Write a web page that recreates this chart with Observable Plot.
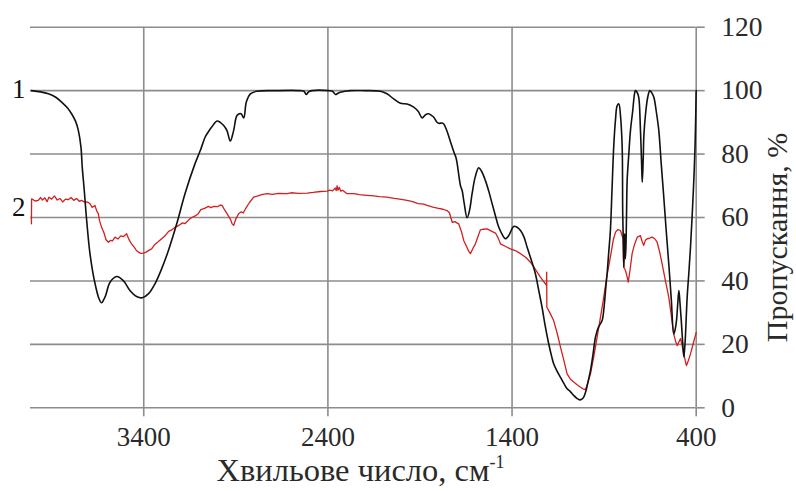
<!DOCTYPE html>
<html>
<head>
<meta charset="utf-8">
<script src="https://cdn.jsdelivr.net/npm/d3@7"></script>
<script src="https://cdn.jsdelivr.net/npm/@observablehq/plot@0.6"></script>
<style>
  html, body { margin: 0; padding: 0; background: #fff; }
</style>
</head>
<body>
<div id="chart"></div>
<script>
// ---- Data ----
const xTicks = [3400, 2400, 1400, 400];
const yTicks = [0, 20, 40, 60, 80, 100, 120];
const xTitle = "Хвильове число, см";
const xTitleSup = "-1";
const yTitle = "Пропускання, %";
const seriesNames = ["1", "2"];
const seriesLabelY = [100.3, 63.3];

// Spectrum 1 (black)
const wave1 = [4010,3960,3918,3880,3846,3815,3792,3770,3755,3741,3734,3723,3710,3692,3668,3643,3629,3618,3607,3583,3547,3511,3475,3439,3408,3375,3339,3303,3266,3221,3176,3122,3093,3067,3056,3030,3002,2985,2966,2948,2930,2912,2893,2872,2857,2843,2821,2785,2700,2549,2530,2517,2505,2486,2396,2375,2359,2345,2332,2278,2200,2115,2079,2043,2006,1970,1934,1910,1888,1870,1853,1838,1825,1810,1798,1780,1771,1755,1735,1715,1705,1698,1680,1671,1660,1644,1630,1617,1600,1581,1565,1545,1525,1508,1490,1472,1450,1436,1418,1400,1391,1375,1354,1335,1318,1295,1273,1255,1237,1220,1201,1185,1174,1155,1137,1118,1101,1085,1065,1048,1032,1015,1001,988,974,960,947,930,911,900,890,883,875,866,857,848,838,829,820,811,802,799,795,793,790,788,785,782,778,775,766,757,745,735,730,721,712,703,697,693,688,684,675,663,652,641,630,617,603,590,576,563,549,535,522,515,507,500,494,488,481,474,467,460,449,440,431,422,413,406,400];
const trans1 = [100,99.6,99.0,98.0,96.4,94.6,92.7,90.3,87.4,82.2,75.9,68.5,59.1,48.6,40.1,34.4,33.1,34.0,35.4,39.6,41.4,40.1,37.0,35.1,34.7,35.9,39.1,43.8,49.6,58.0,67.5,76.9,81.1,85.3,86.4,88.6,90.4,90.0,89.0,87.4,84.1,87.4,92.2,92.7,91.4,96.4,99.0,99.8,100,100,99.8,98.8,99.6,100,100,99.8,98.8,99.2,99.5,100,100,99.8,99.0,97.4,96.0,95.8,94.8,93.5,91.4,92.4,92.7,92.2,91.6,90.2,89.7,89.8,89.5,87.5,84.0,80.5,79.0,77.0,70.0,68.5,64.5,59.9,62.5,67.5,72.8,75.7,74.5,71.7,68.0,64.3,60.5,56.9,54.3,53.3,54.3,56.5,57.2,57.0,55.9,53.8,50.6,46.5,42.2,37.0,31.7,25.8,20.2,16.2,13.9,11.5,9.6,7.6,6.0,5.2,3.9,3.0,2.5,3.0,4.9,8.0,11.8,17.0,22.3,25.5,27.5,32.0,38.5,42.8,49.0,55.9,69.0,82.2,91.0,95.3,95.8,92.0,82.2,61.2,50.0,44.3,52.0,54.9,47.0,50.0,62.0,71.7,80.0,87.4,93.5,99.0,100,99.5,97.9,88.0,78.0,71.1,78.0,86.0,92.7,98.0,100,99.3,97.9,93.5,87.4,77.0,66.4,56.0,45.4,34.0,23.3,24.5,27.5,33.0,37.0,33.0,27.5,21.0,16.0,21.0,34.9,42.5,50.6,60.5,71.7,83.0,100];

// Spectrum 2 (red)
const wave2 = [4010,4009,3990,3973,3960,3950,3937,3925,3915,3900,3885,3870,3855,3840,3825,3810,3795,3780,3765,3750,3738,3720,3705,3692,3680,3665,3655,3647,3640,3629,3615,3605,3592,3580,3570,3556,3540,3525,3510,3493,3480,3466,3450,3440,3429,3415,3402,3390,3370,3357,3340,3320,3303,3285,3265,3250,3230,3210,3190,3175,3158,3140,3120,3104,3090,3070,3049,3035,3020,3000,2985,2975,2960,2948,2930,2920,2912,2900,2885,2870,2860,2848,2825,2803,2780,2760,2730,2700,2670,2622,2600,2560,2513,2480,2440,2404,2390,2375,2360,2355,2350,2345,2338,2330,2320,2296,2260,2230,2187,2150,2120,2079,2040,2010,1970,1940,1910,1880,1861,1830,1800,1775,1753,1740,1725,1710,1700,1690,1675,1662,1645,1635,1626,1612,1599,1585,1572,1555,1535,1515,1490,1475,1463,1440,1409,1380,1354,1325,1300,1275,1246,1228,1213,1212,1211,1195,1174,1155,1137,1118,1101,1083,1065,1045,1028,1015,1001,988,974,955,938,920,902,885,866,850,838,825,811,797,795,793,784,776,769,758,748,735,720,703,694,685,676,666,652,639,625,612,598,585,567,549,535,522,512,503,494,485,476,467,460,453,442,431,415,400];
const trans2 = [58.0,65.9,65.2,65.4,66.3,65.5,66.2,65.0,66.4,65.8,66.8,65.5,66.0,64.9,65.8,65.6,66.3,65.4,66.0,65.1,65.4,64.8,64.9,64.3,63.2,63.8,62.0,61.2,59.0,56.9,55.0,53.0,52.2,52.8,52.6,53.8,53.2,54.2,54.0,54.9,53.0,51.7,50.5,49.6,49.1,48.7,48.8,49.0,49.7,50.1,51.5,52.4,53.3,54.2,55.6,56.0,56.9,57.5,58.3,58.1,59.1,60.0,60.5,61.2,62.5,62.9,63.5,63.1,63.5,63.4,63.9,63.8,62.3,61.2,59.5,58.0,57.5,59.5,61.2,61.8,61.4,62.7,64.8,66.4,66.8,67.2,67.5,67.3,67.6,67.5,67.8,67.6,67.7,67.9,68.2,68.3,68.6,68.4,69.3,68.5,70.0,68.6,69.5,68.3,68.6,67.5,67.5,67.2,67.0,66.8,66.6,66.4,66.0,65.8,65.4,65.0,64.4,64.2,63.8,63.3,62.9,62.6,62.2,61.5,58.5,58.7,58.3,58.0,55.6,52.7,50.6,49.3,48.6,50.3,51.7,54.0,56.1,56.3,56.4,55.8,55.1,53.5,51.7,51.0,50.1,49.5,48.6,47.4,45.9,43.8,41.2,39.8,38.6,42.8,31.7,30.0,27.5,23.5,19.1,14.8,10.7,9.0,8.1,7.2,6.5,6.0,5.7,8.0,10.7,16.5,22.3,28.5,34.9,41.5,47.5,53.0,55.4,56.2,55.9,53.3,47.0,44.3,43.3,41.5,39.6,44.0,48.6,51.5,53.8,54.3,52.5,51.2,52.8,53.3,53.5,53.8,53.3,52.2,49.0,45.4,40.0,34.9,29.0,23.3,21.0,19.6,20.8,21.8,19.5,17.0,15.0,13.3,15.0,17.0,20.5,23.8];

// ---- Build tables for the library ----
const s1 = wave1.map((w, i) => ({w, t: trans1[i]}));
const s2 = wave2.map((w, i) => ({w, t: trans2[i]}));
const labels = seriesNames.map((n, i) => ({name: n, y: seriesLabelY[i]}));

const FONT = "'Liberation Serif', 'Times New Roman', serif";
const GRID = "#8c8c8c";
const TEXT = "#2a2a2a";

const chart = Plot.plot({
  width: 796,
  height: 491,
  marginTop: 26.7,
  marginBottom: 83.7,
  marginLeft: 30,
  marginRight: 100.3,
  style: {fontFamily: FONT, background: "#fff", color: TEXT},
  x: {domain: [4015, 400]},
  y: {domain: [0, 120]},
  marks: [
    Plot.ruleY(yTicks, {stroke: GRID, strokeWidth: 1.6}),
    Plot.ruleX(xTicks, {y1: 0, y2: 120, stroke: GRID, strokeWidth: 1.6}),
    Plot.axisX(xTicks, {
      tickSize: 9, tickPadding: 10.5, stroke: GRID, strokeWidth: 1.6,
      fill: TEXT, fontSize: 27, label: null,
      tickFormat: d => String(d)
    }),
    Plot.axisY(yTicks, {
      anchor: "right", tickSize: 8, tickPadding: 17, stroke: GRID, strokeWidth: 1.6,
      fill: TEXT, fontSize: 27.5, label: null,
      tickFormat: d => String(d)
    }),
    Plot.line(s2, {x: "w", y: "t", stroke: "#d21f1f", strokeWidth: 1.3}),
    Plot.line(s1, {x: "w", y: "t", stroke: "#111", strokeWidth: 1.6, curve: "catmull-rom"}),
    Plot.text(labels, {
      y: "y", text: "name", frameAnchor: "left", textAnchor: "end", dx: -5,
      fontSize: 27, fill: "#111"
    })
  ]
});

const svg = d3.select(chart);
const xt = svg.append("text")
  .attr("x", 360.5).attr("y", 481)
  .attr("text-anchor", "middle")
  .attr("font-size", 32.5).attr("fill", TEXT);
xt.append("tspan").text(xTitle);
xt.append("tspan").attr("dy", -13).attr("font-size", 18).text(xTitleSup);

svg.append("text")
  .attr("transform", "translate(787,237.5) rotate(-90)")
  .attr("text-anchor", "middle")
  .attr("font-size", 30).attr("fill", TEXT)
  .text(yTitle);

svg.selectAll("text").style("font-family", FONT);
svg.selectAll("g").style("font-family", FONT);

document.getElementById("chart").appendChild(chart);
</script>
</body>
</html>
